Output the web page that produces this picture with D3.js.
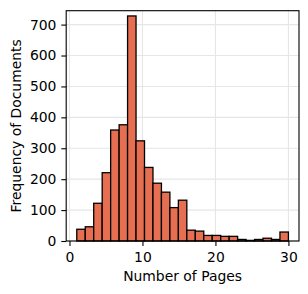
<!DOCTYPE html>
<html>
<head>
<meta charset="utf-8">
<script src="https://cdn.jsdelivr.net/npm/d3@7"></script>
<style>
  body { margin: 0; background: #fff; }
  text { font-family: "DejaVu Sans", sans-serif; }
</style>
</head>
<body>
<script>
// histogram of page counts: 25 bins over [1, 30]
const binStart = 1,
    binEnd = 30,
    counts = [38, 46, 122, 221, 359, 376, 728, 324, 238, 187, 158, 108, 132,
        35, 32, 18, 18, 15, 15, 5, 2, 5, 9, 5, 29],
    xTicks = [0, 10, 20, 30],
    yTicks = [0, 100, 200, 300, 400, 500, 600, 700];

const width = 308,
    height = 294,
    margin = { top: 10.7, right: 9, bottom: 53, left: 66.2 },
    innerW = width - margin.left - margin.right,
    innerH = height - margin.top - margin.bottom,
    fontSize = "13.9px",
    barColor = "#e76f51";

const binW = (binEnd - binStart) / counts.length;
const bins = counts.map((c, i) => ({
    x0: binStart + i * binW,
    x1: binStart + (i + 1) * binW,
    count: c
}));

const x = d3.scaleLinear()
    .domain([-0.45, 31.45])
    .range([0, innerW]);

const y = d3.scaleLinear()
    .domain([0, 745])
    .range([innerH, 0]);

const svg = d3.select("body").append("svg")
    .attr("width", width)
    .attr("height", height);

const g = svg.append("g")
    .attr("transform", "translate(" + margin.left + "," + margin.top + ")");

// grid behind the bars
g.append("g").selectAll("line")
    .data(xTicks)
    .enter().append("line")
    .attr("x1", d => x(d)).attr("x2", d => x(d))
    .attr("y1", 0).attr("y2", innerH)
    .attr("stroke", "#e6e6e6")
    .attr("stroke-width", 1.1);

g.append("g").selectAll("line")
    .data(yTicks)
    .enter().append("line")
    .attr("x1", 0).attr("x2", innerW)
    .attr("y1", d => y(d)).attr("y2", d => y(d))
    .attr("stroke", "#e6e6e6")
    .attr("stroke-width", 1.1);

g.append("g").selectAll("rect")
    .data(bins)
    .enter().append("rect")
    .attr("x", d => x(d.x0))
    .attr("width", d => x(d.x1) - x(d.x0))
    .attr("y", d => y(d.count))
    .attr("height", d => y(0) - y(d.count))
    .attr("fill", barColor)
    .attr("stroke", "#000")
    .attr("stroke-width", 1.3);

// axes
const xAxis = g.append("g")
    .attr("transform", "translate(0," + innerH + ")")
    .call(d3.axisBottom(x).tickValues(xTicks).tickSize(4.9).tickPadding(6));

const yAxis = g.append("g")
    .call(d3.axisLeft(y).tickValues(yTicks).tickSize(4.9).tickPadding(4.9));

[xAxis, yAxis].forEach(a => {
    a.select(".domain").remove();
    a.selectAll("line").attr("stroke", "#000").attr("stroke-width", 1.1);
    a.selectAll("text")
        .attr("fill", "#000")
        .style("font-size", fontSize)
        .style("font-family", "DejaVu Sans, sans-serif");
});

// frame
g.append("rect")
    .attr("width", innerW)
    .attr("height", innerH)
    .attr("fill", "none")
    .attr("stroke", "#000")
    .attr("stroke-width", 1.1);

svg.append("text")
    .attr("x", margin.left + innerW / 2)
    .attr("y", 280.5)
    .attr("text-anchor", "middle")
    .style("font-size", fontSize)
    .text("Number of Pages");

svg.append("text")
    .attr("transform", "translate(21," + (margin.top + innerH / 2) + ") rotate(-90)")
    .attr("text-anchor", "middle")
    .style("font-size", fontSize)
    .text("Frequency of Documents");
</script>
</body>
</html>
